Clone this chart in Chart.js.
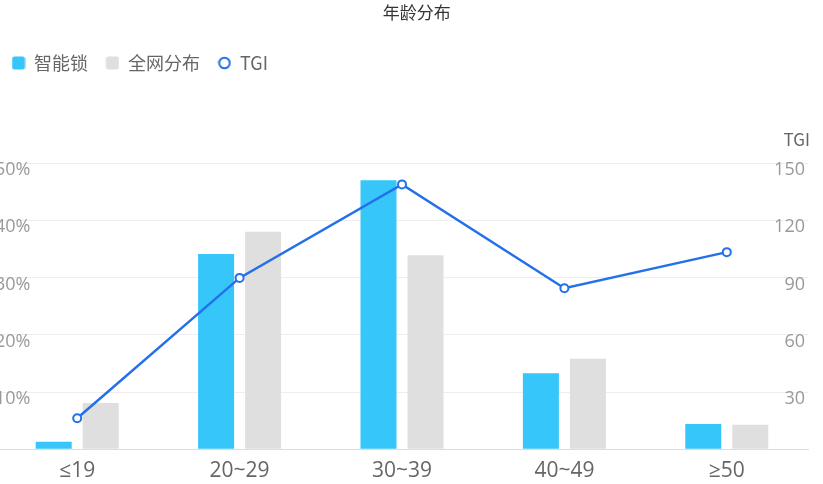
<!DOCTYPE html>
<html>
<head>
<meta charset="utf-8">
<script src="https://cdn.jsdelivr.net/npm/chart.js@4/dist/chart.umd.min.js"></script>
<style>
  html, body { margin: 0; padding: 0; background: #fff; overflow: hidden; }
  #wrap { position: relative; width: 823px; height: 484px; overflow: hidden; }
  #c { position: absolute; left: -4px; top: 0; }
</style>
</head>
<body>
<div id="wrap"><canvas id="c" width="827" height="484"></canvas></div>
<script>
const titleText = '年龄分布';
const categories = ['≤19', '20~29', '30~39', '40~49', '≥50'];
const smartLock = [1.3, 34.1, 47.0, 13.3, 4.4];
const overall = [8.1, 38.0, 33.9, 15.8, 4.3];
const tgi = [16.3, 89.8, 138.8, 84.4, 103.3];
const seriesNames = ['智能锁', '全网分布', 'TGI'];
const leftTicks = { min: 0, max: 50, step: 10 };
const rightTicks = { min: 0, max: 150, step: 30 };

const BLUE = '#36C6F9', GRAY = '#DFDFDF', LINE = '#2370EB';
const FONT = '"Noto Sans CJK SC", "Noto Sans", sans-serif';
const LATIN = '"Open Sans", "DejaVu Sans", "Noto Sans CJK SC", sans-serif';

function markerSquare(color) {
  const c = document.createElement('canvas'); c.width = 14; c.height = 14;
  const x = c.getContext('2d'); x.fillStyle = color;
  x.beginPath(); x.roundRect(0.5, 0.5, 13, 13, 2.5); x.fill();
  return c;
}
function markerCircle(color) {
  const c = document.createElement('canvas'); c.width = 14; c.height = 14;
  const x = c.getContext('2d'); x.strokeStyle = color; x.lineWidth = 2; x.fillStyle = '#fff';
  x.beginPath(); x.arc(7, 7, 5.3, 0, Math.PI * 2); x.fill(); x.stroke();
  return c;
}
const markers = [markerSquare(BLUE), markerSquare(GRAY), markerCircle(LINE)];

const tweak = {
  id: 'tweak',
  beforeLayout(chart) {
    const lg = chart.legend;
    if (lg && !lg._patched) {
      const orig = lg.fit.bind(lg);
      lg.fit = function () { orig(); this.height = 127; };
      lg._patched = true;
    }
  },
  afterLayout(chart) {
    if (chart.titleBlock) { chart.titleBlock.left += 14.7; chart.titleBlock.right += 14.7; }
    if (chart.legend) { chart.legend.left -= 2; chart.legend.right -= 2; }
  },
  afterDraw(chart) {
    const ctx = chart.ctx, a = chart.chartArea;
    ctx.save();
    ctx.font = '17px ' + FONT;
    ctx.fillStyle = '#666';
    ctx.textAlign = 'right';
    ctx.textBaseline = 'middle';
    ctx.fillText('TGI', a.right + 2, a.top - 23);
    ctx.restore();
  }
};

new Chart(document.getElementById('c'), {
  data: {
    labels: categories,
    datasets: [
      { type: 'bar', label: seriesNames[0], data: smartLock, backgroundColor: BLUE, yAxisID: 'y', order: 2,
        categoryPercentage: 0.579, barPercentage: 0.766 },
      { type: 'bar', label: seriesNames[1], data: overall, backgroundColor: GRAY, yAxisID: 'y', order: 2,
        categoryPercentage: 0.579, barPercentage: 0.766 },
      { type: 'line', label: seriesNames[2], data: tgi, borderColor: LINE, borderWidth: 2.5,
        pointRadius: 4, pointBorderWidth: 2, pointBackgroundColor: '#fff', pointBorderColor: LINE,
        tension: 0, yAxisID: 'y1', order: 0 }
    ]
  },
  options: {
    responsive: false,
    animation: false,
    layout: { autoPadding: false, padding: { left: 0, right: 15, top: 0, bottom: 4.7 } },
    plugins: {
      title: { display: true, text: titleText, color: '#333', font: { family: FONT, size: 17, weight: 'normal' },
               padding: { top: 2, bottom: 13.6 } },
      legend: {
        display: true, position: 'top', align: 'start',
        labels: {
          usePointStyle: true, boxWidth: 13, boxHeight: 13, padding: 18,
          color: '#666', font: { family: FONT, size: 18 },
          sort: (a, b) => a.datasetIndex - b.datasetIndex,
          generateLabels(chart) {
            const items = Chart.defaults.plugins.legend.labels.generateLabels(chart);
            items.forEach(it => { it.pointStyle = markers[it.datasetIndex]; });
            return items;
          }
        }
      },
      tooltip: { enabled: false }
    },
    scales: {
      x: {
        type: 'category',
        afterFit: s => { s.height = 30; s.paddingLeft = 0; s.paddingRight = 0; },
        grid: { display: false, drawTicks: false },
        border: { display: true, color: '#DDDDDD', width: 1 },
        ticks: { color: '#666', font: { family: LATIN, size: 21 }, padding: 9 }
      },
      y: {
        position: 'left', min: leftTicks.min, max: leftTicks.max,
        afterFit: s => { s.width = 0; },
        grid: { color: '#EEEEEE', drawTicks: false },
        border: { display: false },
        ticks: { stepSize: leftTicks.step, mirror: true, padding: -1, labelOffset: 7,
                 color: '#999', font: { family: LATIN, size: 18 },
                 callback: v => v === 0 ? '' : v + '%' }
      },
      y1: {
        position: 'right', min: rightTicks.min, max: rightTicks.max,
        afterFit: s => { s.width = 0; },
        grid: { display: false, drawTicks: false },
        border: { display: false },
        ticks: { stepSize: rightTicks.step, mirror: true, padding: -3, labelOffset: 7,
                 color: '#999', font: { family: LATIN, size: 18 },
                 callback: v => v === 0 ? '' : String(v) }
      }
    }
  },
  plugins: [tweak]
});
</script>
</body>
</html>
